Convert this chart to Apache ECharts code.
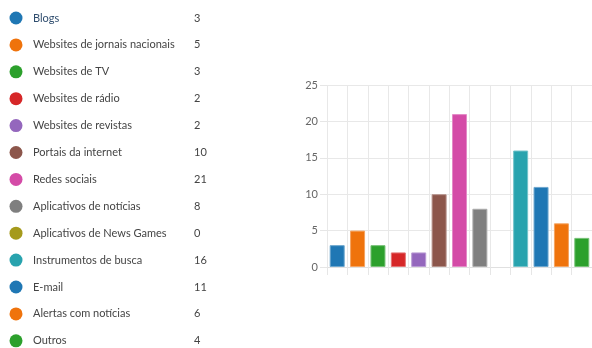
<!DOCTYPE html>
<html>
<head>
<meta charset="utf-8">
<script src="https://cdn.jsdelivr.net/npm/echarts@6/dist/echarts.min.js"></script>
<style>
html,body{margin:0;padding:0;background:#fff;}
#chart{width:592px;height:348px;}
</style>
</head>
<body>
<div id="chart"></div>
<script>
var categories = ["Blogs","Websites de jornais nacionais","Websites de TV","Websites de rádio","Websites de revistas","Portais da internet","Redes sociais","Aplicativos de notícias","Aplicativos de News Games","Instrumentos de busca","E-mail","Alertas com notícias","Outros"];
var values = [3,5,3,2,2,10,21,8,0,16,11,6,4];
var yTicks = [0,5,10,15,20,25];
var palette = ["#1f77b4","#ef730c","#2ca02c","#d62728","#9467bd","#8c564b","#d44ba7","#7f7f7f","#a59a1c","#28a3ae","#1f77b4","#ef730c","#2ca02c"];

function lighten(hex, t){
  var r=parseInt(hex.substr(1,2),16),g=parseInt(hex.substr(3,2),16),b=parseInt(hex.substr(5,2),16);
  r=Math.round(r+(255-r)*t);g=Math.round(g+(255-g)*t);b=Math.round(b+(255-b)*t);
  return 'rgb('+r+','+g+','+b+')';
}

var FONT = 'Lato, "Open Sans", sans-serif';
var rowTop = 18, rowStep = 26.9;
var graphics = [];
categories.forEach(function(name,i){
  var cy = rowTop + i*rowStep;
  graphics.push({type:'circle', shape:{cx:16, cy:cy, r:6.5}, style:{fill:palette[i]}, silent:true});
  graphics.push({type:'text', x:33, y:cy, style:{text:name, fill: i===0 ? '#2f4d6e' : '#444', font:'11px '+FONT, textVerticalAlign:'middle'}, silent:true});
  graphics.push({type:'text', x:194, y:cy, style:{text:String(values[i]), fill:'#444', font:'11px '+FONT, textVerticalAlign:'middle'}, silent:true});
});

var chart = echarts.init(document.getElementById('chart'), null, {renderer:'canvas'});
chart.setOption({
  animation:false,
  graphic: graphics,
  grid:{left:327, top:85, width:270, height:182, containLabel:false},
  xAxis:{
    type:'category', data:categories,
    axisLine:{show:true, lineStyle:{color:'#e0e0e0'}},
    axisTick:{show:true, interval:0, length:8, lineStyle:{color:'#e6e6e6'}},
    axisLabel:{show:false, interval:0},
    splitLine:{show:true, interval:0, lineStyle:{color:'#e8e8e8'}}
  },
  yAxis:{
    type:'value', min:yTicks[0], max:yTicks[yTicks.length-1], interval:5,
    axisLine:{show:false},
    axisTick:{show:true, length:7, lineStyle:{color:'#e6e6e6'}},
    axisLabel:{color:'#666', fontSize:11, fontFamily:FONT, margin:9},
    splitLine:{show:true, lineStyle:{color:'#e8e8e8'}}
  },
  series:[{
    type:'bar', barWidth:15,
    data: values.map(function(v,i){ return {value:v, itemStyle:{color:palette[i], borderColor:lighten(palette[i],0.35), borderWidth: v>0 ? 1 : 0}}; })
  }]
});
</script>
</body>
</html>
